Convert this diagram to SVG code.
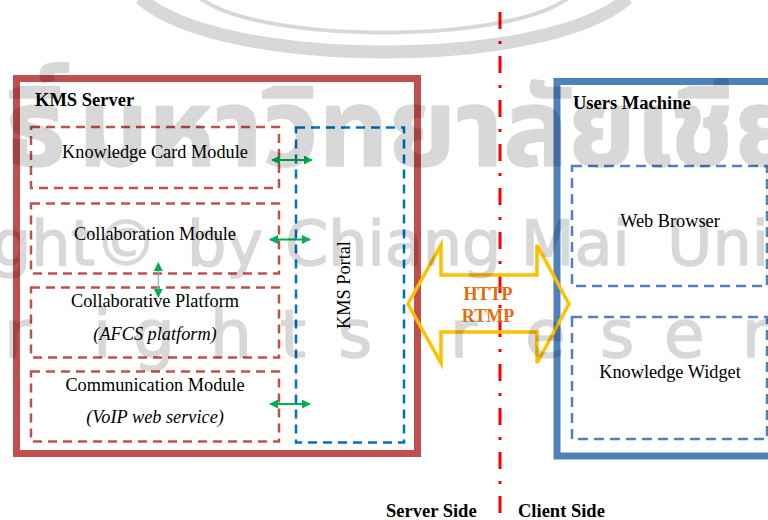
<svg xmlns="http://www.w3.org/2000/svg" width="768" height="520" viewBox="0 0 768 520">
  <style>
    .frame { fill: none; stroke-width: 7; }
    .server { stroke: #c0504d; }
    .client { stroke: #4f81bd; }
    .module { fill: none; stroke: #c0504d; stroke-width: 2.5; stroke-dasharray: 9 6; }
    .portal { fill: none; stroke: #0070c0; stroke-width: 2.5; stroke-dasharray: 9 6; }
    .cbox { fill: none; stroke: #4f81bd; stroke-width: 2.5; stroke-dasharray: 10 6; }
    .lbl { font-family: "Liberation Serif", "Times New Roman", serif; font-size: 18.3px; fill: #000; text-anchor: middle; }
    .it { font-style: italic; }
    .title { font-family: "Liberation Serif", "Times New Roman", serif; font-size: 18.5px; font-weight: bold; fill: #000; }
    .proto { font-family: "Liberation Serif", "Times New Roman", serif; font-size: 18px; font-weight: bold; fill: #e46c0a; text-anchor: middle; }
    .link { stroke: #00b050; stroke-width: 2.2; fill: none; marker-start: url(#gh); marker-end: url(#gh); }
    .wm text { fill: #000; stroke: #000; stroke-width: 1.5; stroke-linejoin: round; }
    .wmline { fill: none; stroke: #000; }
  </style>
  <defs>
    <marker id="gh" viewBox="0 0 10 10" refX="9" refY="5" markerWidth="9" markerHeight="9" markerUnits="userSpaceOnUse" orient="auto-start-reverse">
      <path d="M0,0 L10,5 L0,10 Z" fill="#00b050"/>
    </marker>
  </defs>

  <rect width="768" height="520" fill="#fff"/>

  <!-- Server / client divide -->
  <g id="divider">
    <line x1="500" y1="12" x2="500" y2="520" stroke="#ff0000" stroke-width="3" stroke-dasharray="17 12 3 12"/>
    <text class="title" x="386" y="516.5">Server Side</text>
    <text class="title" x="518" y="516.5">Client Side</text>
  </g>

  <!-- KMS Server -->
  <g id="kms-server">
    <rect class="frame server" x="16.5" y="78.5" width="401" height="375"/>
    <text class="title" x="35" y="106">KMS Server</text>
  </g>

  <g id="knowledge-card-module">
    <rect class="module" x="31" y="127" width="248" height="61"/>
    <text class="lbl" x="155" y="158">Knowledge Card Module</text>
  </g>

  <g id="collaboration-module">
    <rect class="module" x="31" y="203.5" width="248" height="70"/>
    <text class="lbl" x="155" y="240">Collaboration Module</text>
  </g>

  <g id="collaborative-platform">
    <rect class="module" x="31" y="287.5" width="248" height="70"/>
    <text class="lbl" x="155" y="307">Collaborative Platform</text>
    <text class="lbl it" x="155" y="340">(AFCS platform)</text>
  </g>

  <g id="communication-module">
    <rect class="module" x="31" y="371.5" width="248" height="70"/>
    <text class="lbl" x="155" y="391">Communication Module</text>
    <text class="lbl it" x="155" y="423">(VoIP web service)</text>
  </g>

  <g id="kms-portal">
    <rect class="portal" x="296" y="127.5" width="108" height="315"/>
    <text class="lbl" transform="translate(350,285) rotate(-90)">KMS Portal</text>
  </g>

  <!-- Users Machine -->
  <g id="users-machine">
    <rect class="frame client" x="557" y="81.5" width="260" height="374.5"/>
    <text class="title" x="573" y="109">Users Machine</text>
  </g>

  <g id="web-browser">
    <rect class="cbox" x="572" y="166" width="195" height="120"/>
    <text class="lbl" x="670" y="227">Web Browser</text>
  </g>

  <g id="knowledge-widget">
    <rect class="cbox" x="572" y="317" width="195" height="122"/>
    <text class="lbl" x="670" y="378">Knowledge Widget</text>
  </g>

  <!-- Connectors -->
  <g id="connectors">
    <line class="link" x1="272" y1="160" x2="312" y2="160"/>
    <line class="link" x1="270" y1="239.5" x2="310" y2="239.5"/>
    <line class="link" x1="270" y1="404" x2="310" y2="404"/>
    <line x1="158.3" y1="263" x2="158.3" y2="297" stroke="#6fd39a" stroke-width="1.2" marker-start="url(#gh)" marker-end="url(#gh)"/>
    <g id="http-link">
      <path d="M408,304 L441,245 L441,275 L537,275 L537,245 L569,304 L537,363 L537,332 L441,332 L441,363 Z" fill="none" stroke="#ffc000" stroke-width="3.5" stroke-linejoin="miter"/>
      <text class="proto" x="488" y="300">HTTP</text>
      <text class="proto" x="488" y="322">RTMP</text>
    </g>
  </g>

  <!-- Copyright watermark, laid over everything as a light grey tint -->
  <g id="watermark" class="wm" opacity="0.15">
    <path class="wmline" d="M140,-2 C220,70 548,70 628,-2" stroke-width="13"/>
    <path class="wmline" d="M200,-2 C260,44 508,44 568,-2" stroke-width="4"/>
    <g font-family="'Noto Sans Thai', 'Noto Serif Thai', Loma, Garuda, 'DejaVu Sans', sans-serif" font-size="108" font-weight="bold">
      <text x="66" y="166" text-anchor="end">ลิขสิทธิ์</text>
      <text x="78" y="166" textLength="960" lengthAdjust="spacingAndGlyphs">มหาวิทยาลัยเชียงใหม่</text>
    </g>
    <text y="265" font-family="'DejaVu Sans', sans-serif" font-size="62"><tspan x="-8">ght©</tspan><tspan x="187">by</tspan><tspan x="285">Chiang</tspan><tspan x="521">Mai</tspan><tspan x="667">University</tspan></text>
    <text y="357" font-family="'DejaVu Sans', sans-serif" font-size="66"><tspan x="4">r</tspan><tspan x="93">i</tspan><tspan x="133">g</tspan><tspan x="210">h</tspan><tspan x="280">t</tspan><tspan x="338">s</tspan><tspan x="450">r</tspan><tspan x="525">e</tspan><tspan x="600">s</tspan><tspan x="664">e</tspan><tspan x="742">r</tspan></text>
  </g>
</svg>
